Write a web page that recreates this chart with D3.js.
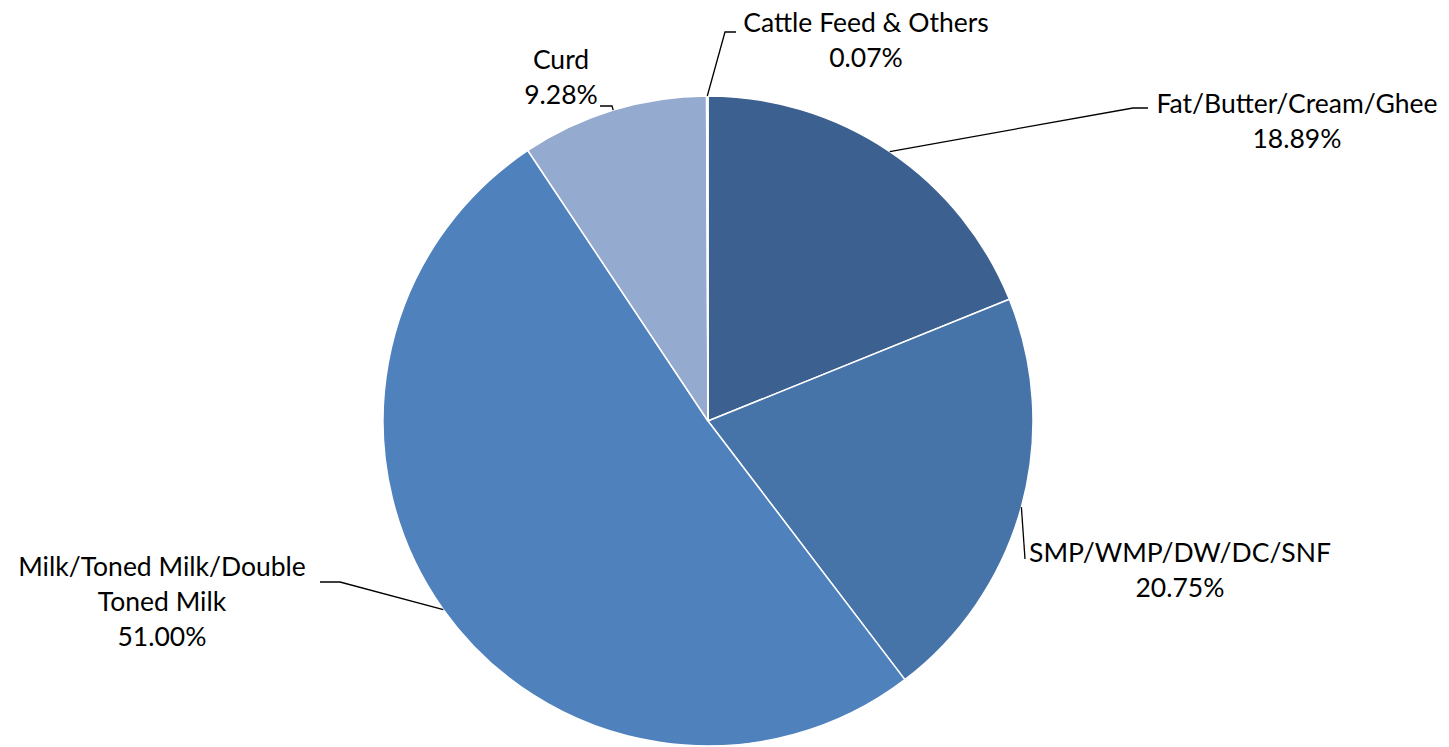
<!DOCTYPE html>
<html>
<head>
<meta charset="utf-8">
<script src="https://cdn.jsdelivr.net/npm/d3@7"></script>
<style>
  html, body { margin: 0; padding: 0; background: #ffffff; }
  svg { display: block; }
  text { font-family: Lato, "Open Sans", sans-serif; fill: #000; }
</style>
</head>
<body>
<svg id="chart" width="1449" height="747"></svg>
<script>
// Product mix shares (percent), clockwise from 12 o'clock
const categories = [
  "Fat/Butter/Cream/Ghee",
  "SMP/WMP/DW/DC/SNF",
  "Milk/Toned Milk/Double Toned Milk",
  "Curd",
  "Cattle Feed & Others"
];
const shares = [18.89, 20.75, 51.00, 9.28, 0.07];
const colors = ["#3C6090", "#4674A9", "#4F81BD", "#95AACF", "#F3F6FB"];

// Label text lines per slice
const labelLines = [
  ["Fat/Butter/Cream/Ghee", "18.89%"],
  ["SMP/WMP/DW/DC/SNF", "20.75%"],
  ["Milk/Toned Milk/Double", "Toned Milk", "51.00%"],
  ["Curd", "9.28%"],
  ["Cattle Feed & Others", "0.07%"]
];

// Label placement: centre x, first line centre y, and leader path corners
const labelLayout = [
  { x: 1297, y: 104, elbow: [1133, 108], end: [1148, 108] },
  { x: 1180, y: 553, elbow: [1025, 559], end: [1025, 559] },
  { x: 162,  y: 567, elbow: [340, 582], end: [320, 582] },
  { x: 561,  y: 60,  elbow: [612, 106], end: [600, 106] },
  { x: 866,  y: 23,  elbow: [725, 32],  end: [736, 32] }
];

const svg = d3.select("#chart");
const cx = 708, cy = 421, r = 325;
const g = svg.append("g").attr("transform", `translate(${cx},${cy})`);

const pie = d3.pie().sort(null).value(d => d);
const arcs = pie(shares);
const arc = d3.arc().innerRadius(0).outerRadius(r);

g.selectAll("path.slice")
  .data(arcs)
  .join("path")
  .attr("class", "slice")
  .attr("d", arc)
  .attr("fill", (d, i) => colors[i])
  .attr("stroke", "#ffffff")
  .attr("stroke-width", 1.5)
  .attr("stroke-linejoin", "round");

// Leader lines from the slice edge at its mid-angle
const lineGen = d3.line();
arcs.forEach((d, i) => {
  const a = (d.startAngle + d.endAngle) / 2;
  const p0 = [cx + r * Math.sin(a), cy - r * Math.cos(a)];
  const L = labelLayout[i];
  svg.append("path")
    .attr("d", lineGen([p0, L.elbow, L.end]))
    .attr("fill", "none")
    .attr("stroke", "#000")
    .attr("stroke-width", 1.3);
});

// Labels
const lineStep = 35;
labelLines.forEach((lines, i) => {
  const L = labelLayout[i];
  const t = svg.append("text")
    .attr("text-anchor", "middle")
    .attr("font-size", 26.5);
  lines.forEach((s, k) => {
    t.append("tspan")
      .attr("x", L.x)
      .attr("y", L.y + k * lineStep)
      .attr("dy", "0.35em")
      .text(s);
  });
});
</script>
</body>
</html>
